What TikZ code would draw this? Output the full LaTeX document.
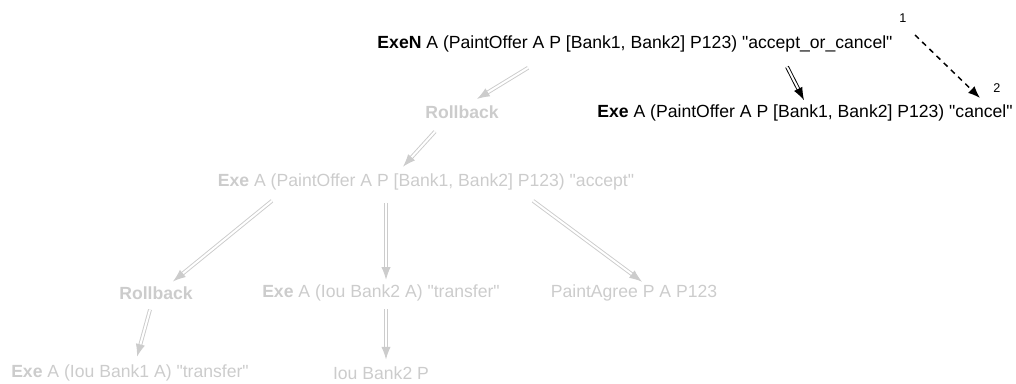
\documentclass[tikz,border=0pt]{standalone}
\usepackage{fontspec}
\setmainfont{Liberation Sans}[Ligatures=TeXOff]
\usepackage{tikz}
\usetikzlibrary{arrows.meta,calc}
\definecolor{ghost}{HTML}{CCCCCC}

\begin{document}
\begin{tikzpicture}[x=0.75pt,y=-0.75pt,
  state/.style={inner sep=1pt,font=\fontsize{13.2}{16}\selectfont},
  ghoststate/.style={state,text=ghost},
  tick/.style={inner sep=1pt,font=\fontsize{9.5}{11}\selectfont},
  trans/.style={double,double distance=1.5pt,line width=0.7pt,-{Latex[length=9.5pt,width=7pt]}},
  ghosttrans/.style={trans,draw=ghost,fill=ghost},
  hop/.style={line width=1.1pt,dash pattern=on 4pt off 3.5pt,-{Latex[length=9pt,width=7pt]}}]
\useasboundingbox (0,0) rectangle (1016,383);

% states
\node[state] (top) at (635,44) {\textbf{ExeN} A (PaintOffer A P [Bank1, Bank2] P123) "accept\_or\_cancel"};
\node[state] (cancel) at (805,113) {\textbf{Exe} A (PaintOffer A P [Bank1, Bank2] P123) "cancel"};
\node[ghoststate] (rb1) at (462,112) {\textbf{Rollback}};
\node[ghoststate] (acc) at (426,182) {\textbf{Exe} A (PaintOffer A P [Bank1, Bank2] P123) "accept"};
\node[ghoststate] (rb2) at (156,293) {\textbf{Rollback}};
\node[ghoststate] (iou2) at (381,293) {\textbf{Exe} A (Iou Bank2 A) "transfer"};
\node[ghoststate] (agree) at (634,293) {PaintAgree P A P123};
\node[ghoststate] (iou1) at (130,373) {\textbf{Exe} A (Iou Bank1 A) "transfer"};
\node[ghoststate] (iouP) at (381,373) {Iou Bank2 P};

% step counter
\node[tick] (n1) at (903,18) {1};
\node[tick] (n2) at (997,88) {2};

% transitions
\draw[ghosttrans] ($(top.south)+(-107,14)$) -- ($(rb1.north)+(15,-5)$);
\draw[trans] ($(top.south)+(152,13)$) -- ($(cancel.north)+(-1,-3)$);
\draw[ghosttrans] ($(rb1.south)+(-27,11.5)$) -- ($(acc.north)+(-23,-5.5)$);
\draw[ghosttrans] ($(acc.south)+(-154,9)$) -- ($(rb2.north)+(17,-3.5)$);
\draw[ghosttrans] ($(acc.south)+(-40,11)$) -- ($(iou2.north)+(5,-3.5)$);
\draw[ghosttrans] ($(acc.south)+(107,9)$) -- ($(agree.north)+(8,-1.5)$);
\draw[ghosttrans] ($(rb2.south)+(-6,8.5)$) -- ($(iou1.north)+(7,-6.5)$);
\draw[ghosttrans] ($(iou2.south)+(5,6.5)$) -- ($(iouP.north)+(5,-5.5)$);
\draw[hop] ($(n1)+(12,17)$) -- ($(n2)+(-17,10)$);
\end{tikzpicture}
\end{document}
